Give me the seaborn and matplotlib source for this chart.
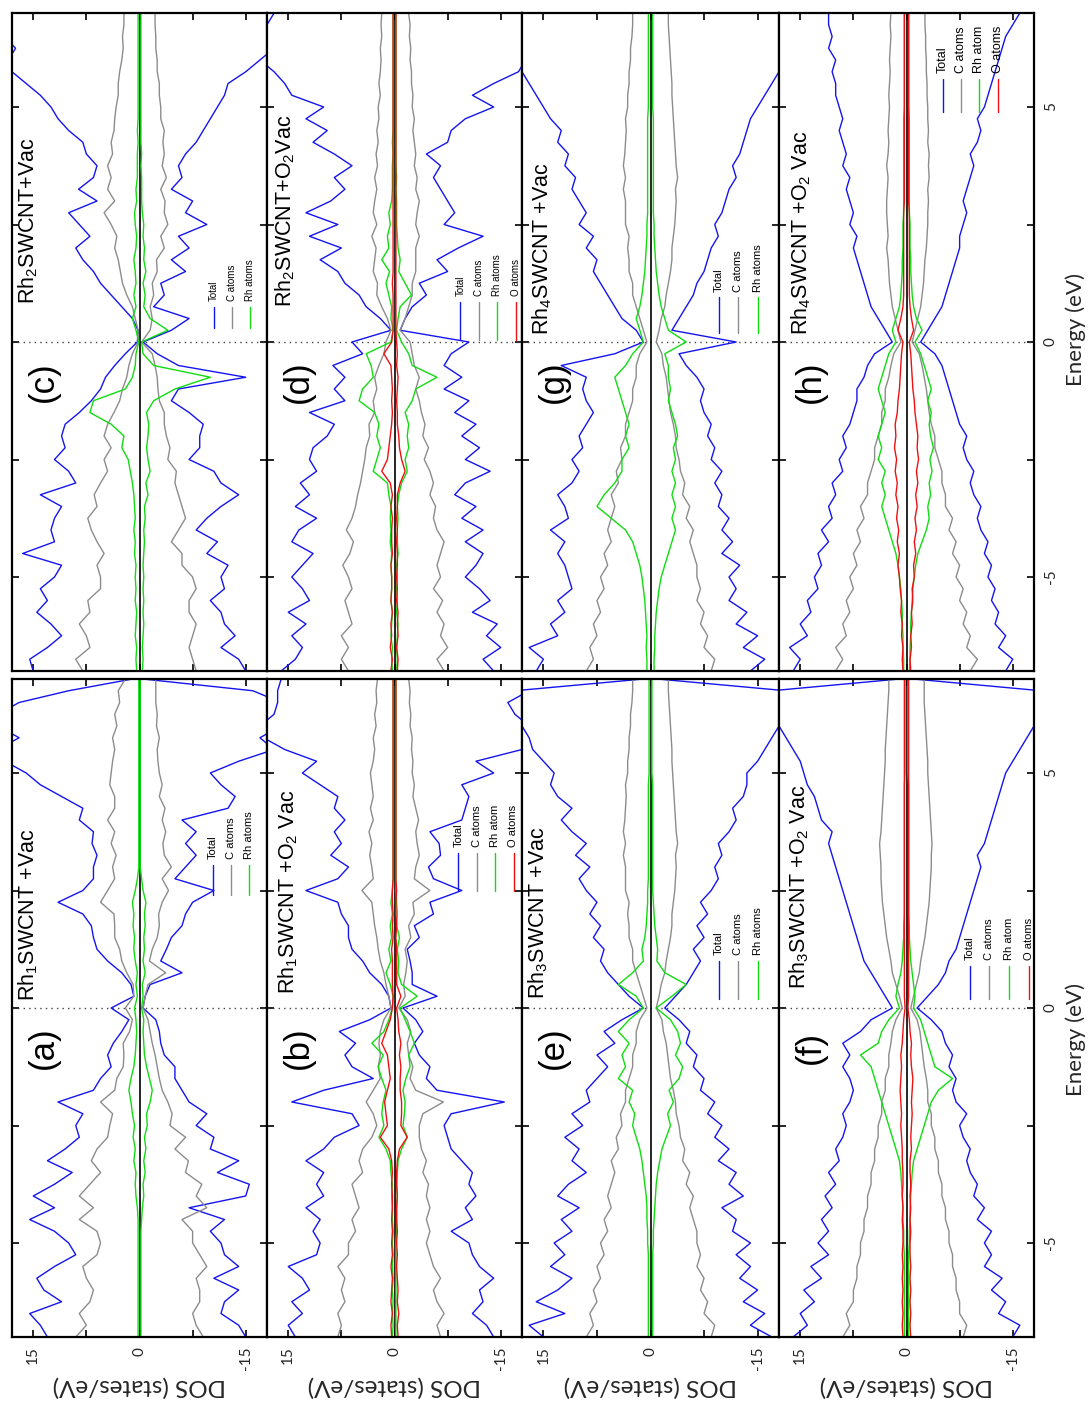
import numpy as np
import matplotlib
matplotlib.use("Agg")
import matplotlib.pyplot as plt
import seaborn as sns

# ---------------- data (DOS in states/eV, energy grid in eV) ----------------
ENERGY = np.arange(-7.0, 7.0001, 0.25)

a_tot_up = [13, 14, 15.5, 11, 13.5, 14.5, 12, 9, 10, 12, 15.5, 12, 15, 12, 9.5, 13,
            10.5, 8.5, 9, 8, 11.5, 6.5, 5.5, 4, 4.5, 3.7, 2.5, 1.5, 4, 0.8, 1.2, 2.5,
            4.5, 6, 6.5, 6.8, 8, 11.5, 8, 6.5, 6.5, 6, 6.7, 6.5, 8.5, 8, 11, 14,
            16, 19, 20, 17, 20, 20, 17, 10, 1]
a_tot_dn = [15, 14, 11.5, 12, 14, 10.5, 14, 12, 11.5, 10, 12, 7, 15, 15.5, 11, 14,
            10, 10.5, 8, 9.5, 7, 6, 5, 5, 3.5, 3, 2.8, 2.3, 0.5, 0.8, 1.5, 6,
            3, 3.8, 4.5, 6, 6.5, 7.5, 10.5, 5, 6.5, 8, 6.5, 8, 6, 12.5, 13.5, 11.5,
            10, 14, 19, 17, 20, 20, 20, 16, 0.5]
a_c_up = [9, 7.5, 8.5, 7, 6.5, 7.5, 8, 6, 5.5, 6, 8.5, 6.5, 8.5, 7, 5.5, 6.8,
          6, 4.5, 4.2, 3.8, 5.5, 3.5, 3.2, 2.3, 2.2, 2.3, 1.4, 1, 2, 0.8, 0.9, 1.8,
          2.5, 2.8, 3.5, 3.5, 3.6, 5.5, 4.5, 3.5, 3.8, 3.3, 4, 3.5, 4.5, 3.5, 3.5, 4.2,
          4, 3.8, 3.5, 3.8, 3.2, 3.5, 2.8, 3, 2]
a_c_dn = [9, 8, 7.5, 8.5, 8.5, 8, 9.5, 8.5, 7.5, 7.5, 6, 9.5, 8, 8.8, 6.5, 6.9,
          5, 6.5, 4.3, 4.6, 4, 3.2, 2.8, 2.5, 2.2, 1.8, 1.5, 1.2, 0.5, 0.8, 1.2, 3.7,
          1.4, 1.8, 2.5, 2.8, 2.7, 3.2, 4.1, 3.2, 4.5, 3.5, 3.3, 3.7, 3.2, 3.6, 2.8, 3.2,
          2.8, 2.6, 2.5, 2.8, 2.4, 2.5, 2.3, 2.3, 2.3]
a_rh_up = [0.2, 0.2, 0.2, 0.2, 0.2, 0.2, 0.2, 0.2, 0.2, 0.2, 0.2, 0.3, 0.5, 0.6, 0.5, 0.8,
           0.6, 0.9, 0.7, 1.0, 1.2, 1.5, 1.2, 0.8, 0.6, 0.5, 0.4, 0.5, 0.7, 0.3, 0.5, 0.3,
           0.6, 0.8, 0.7, 0.9, 0.8, 1.0, 0.6, 0.3, 0.1, 0.1, 0.1, 0.1, 0.1, 0.1, 0.1, 0.1,
           0.1, 0.1, 0.1, 0.1, 0.1, 0.1, 0.1, 0.1, 0.1]
a_rh_dn = [0.2, 0.2, 0.2, 0.2, 0.2, 0.2, 0.2, 0.2, 0.2, 0.2, 0.3, 0.4, 0.6, 0.5, 0.8, 0.6,
           0.9, 0.7, 1.1, 1.0, 1.5, 1.8, 1.4, 1.0, 0.7, 0.6, 0.5, 0.6, 0.3, 0.5, 0.4, 0.8,
           0.5, 0.7, 0.6, 0.8, 0.7, 0.9, 0.5, 0.3, 0.1, 0.1, 0.1, 0.1, 0.1, 0.1, 0.1, 0.1,
           0.1, 0.1, 0.1, 0.1, 0.1, 0.1, 0.1, 0.1, 0.1]

b_tot_up = [14, 15, 13, 14.5, 12, 13, 15, 11, 10.5, 11.5, 10.5, 12.5, 10, 11, 10, 12.5,
            10, 8.5, 5, 6, 14.5, 10, 3, 6, 7, 5.5, 7.8, 3.5, 0.5, 0.8, 1.8, 3.5,
            4.5, 6, 6.5, 6.5, 7.5, 8, 12.5, 8, 6.5, 9, 7.5, 8.5, 7, 8.5, 8, 10.5,
            13, 11, 15.5, 18.5, 19, 17, 16.5, 16.5, 16]
b_tot_dn = [14, 13, 11, 12.5, 12, 14, 12, 11, 10.5, 8, 11, 10, 11.5, 10.5, 11, 9.5,
            8, 7.5, 7, 8, 15.5, 6, 4.5, 5, 3.5, 2.8, 4, 3, 1.2, 6, 2.5, 2.5,
            2.2, 1.8, 3.5, 2.8, 5.5, 5, 9.5, 5.5, 4.8, 6.5, 6.3, 5, 9.5, 10, 10.5, 9.5,
            14, 11.5, 18, 19, 19, 17, 16, 19, 18]
b_c_up = [8, 7.5, 8, 7, 7.5, 7, 8, 6.5, 6.5, 5.5, 6, 5, 5.5, 6, 4.5, 5,
          4.5, 3.2, 2.5, 3, 4, 3, 2, 2.3, 2, 2.2, 2, 1.5, 0.5, 0.8, 1.2, 1.5,
          2, 2.3, 2.5, 2.8, 3, 3.2, 4.6, 3, 3.2, 3.5, 3.2, 3.6, 3, 3.4, 3, 3.2,
          3.4, 3, 2.8, 3, 2.6, 2.8, 2.5, 2.6, 2.4]
b_c_dn = [6.5, 6, 7, 6, 5.5, 6.5, 5.5, 5, 4.5, 5, 4.5, 5, 4.5, 4.8, 4, 4.5,
          3.8, 3.5, 3.5, 4, 6.9, 3, 2.2, 2.6, 2, 1.8, 2.3, 1.8, 0.6, 1.5, 1.3, 1.6,
          1.8, 1.5, 2.3, 2, 2.8, 2.6, 5, 2.8, 3, 3.5, 3.2, 3, 3.4, 3, 2.6, 2.8,
          2.5, 2.6, 2.4, 2.5, 2.2, 2.3, 2.1, 2.2, 2]
b_rh_up = [0.3, 0.2, 0.3, 0.2, 0.3, 0.2, 0.3, 0.2, 0.3, 0.2, 0.3, 0.3, 0.4, 0.3, 0.5, 0.6,
           1.2, 2.2, 1.5, 1.8, 1.6, 1.2, 1.8, 2.3, 1.6, 3.2, 1.5, 0.8, 0.3, 0.2, 0.6, 1.2,
           0.5, 0.8, 0.4, 0.6, 0.3, 0.5, 0.3, 0.2, 0.2, 0.2, 0.2, 0.2, 0.2, 0.2, 0.2, 0.2,
           0.2, 0.2, 0.2, 0.2, 0.2, 0.2, 0.2, 0.2, 0.2]
b_rh_dn = [0.2, 0.2, 0.2, 0.2, 0.2, 0.2, 0.2, 0.2, 0.2, 0.3, 0.3, 0.3, 0.4, 0.3, 0.4, 0.5,
           1.0, 1.8, 1.2, 1.4, 1.5, 1.2, 1.6, 2.2, 2.0, 2.8, 2.2, 1.5, 0.8, 3.2, 1.0, 0.5,
           0.6, 0.4, 0.7, 0.3, 0.4, 0.3, 0.2, 0.2, 0.2, 0.2, 0.2, 0.2, 0.2, 0.2, 0.2, 0.2,
           0.2, 0.2, 0.2, 0.2, 0.2, 0.2, 0.2, 0.2, 0.2]
b_o_up = [0.4, 0.5, 0.3, 0.5, 0.4, 0.3, 0.5, 0.3, 0.4, 0.3, 0.4, 0.3, 0.3, 0.4, 0.3, 0.4,
          0.8, 2.0, 1.0, 1.2, 1.4, 1.0, 0.6, 0.8, 1.0, 1.8, 1.2, 0.6, 0.3, 0.2, 0.3, 0.3,
          0.3, 0.4, 0.2, 0.3, 0.2, 0.3, 0.3, 0.2, 0.2, 0.2, 0.2, 0.2, 0.2, 0.2, 0.2, 0.2,
          0.2, 0.2, 0.2, 0.2, 0.2, 0.2, 0.2, 0.2, 0.2]
b_o_dn = [0.5, 0.4, 0.6, 0.4, 0.5, 0.4, 0.3, 0.4, 0.3, 0.4, 0.3, 0.3, 0.4, 0.3, 0.3, 0.4,
          0.7, 1.8, 0.9, 1.0, 1.0, 0.8, 0.8, 0.9, 0.7, 0.9, 0.6, 0.5, 0.3, 0.9, 0.3, 0.3,
          0.3, 0.3, 0.2, 0.3, 0.2, 0.2, 0.3, 0.2, 0.2, 0.2, 0.2, 0.2, 0.2, 0.2, 0.2, 0.2,
          0.2, 0.2, 0.2, 0.2, 0.2, 0.2, 0.2, 0.2, 0.2]

c_tot_up = [15, 15.5, 13, 11, 12.5, 14.5, 13, 14, 12, 11, 16.5, 12, 12.5, 12, 11, 14,
            9, 10, 12, 10.5, 11, 10.5, 8.5, 6.8, 5.5, 4.8, 3.5, 2, 0.3, 0.2, 1, 2.5,
            4, 5.5, 6.5, 8, 9, 7, 8.5, 10, 6, 8.6, 6.5, 6, 7.5, 8, 10, 11.5,
            12.5, 14, 16, 18, 18.5, 17.5, 19, 19, 19]
c_tot_dn = [15, 14, 11.5, 13.5, 12, 11.5, 10, 12, 11.5, 12.5, 9.5, 11, 8, 9.5, 11.5, 14,
            11.5, 10.5, 7, 8.5, 8.5, 9, 7, 4.5, 5.5, 15, 5.5, 2.5, 0.5, 4.5, 7, 2,
            3.5, 3, 6.5, 4.5, 7, 5.5, 9.5, 6.5, 7.5, 4.5, 6, 5.5, 6.5, 8, 9, 10,
            11, 12, 12.5, 15, 17, 19, 19, 19, 19]
c_c_up = [8, 9, 7, 7.5, 8.5, 7, 7.3, 5.5, 5.5, 6, 5, 6, 6.8, 7.3, 6, 6.4,
          5.5, 4.5, 5, 4, 5, 4.5, 3.6, 2.8, 2.4, 1.8, 1.5, 1, 0.2, 0.2, 0.6, 1,
          1.8, 2.4, 2.7, 3, 3.5, 3.2, 4, 5, 3.5, 4.5, 4, 4.5, 3.8, 4, 3.6, 3.5,
          3.3, 3, 3, 2.8, 2.5, 2.3, 2.4, 2.2, 2.2]
c_c_dn = [8, 7.5, 7, 7.5, 8, 7, 7, 8, 7.5, 6, 6, 4.5, 5.5, 6.5, 6, 5.5,
          5, 5.2, 4, 4.3, 3.8, 3.5, 3.5, 2.8, 2.6, 2.5, 2.2, 1.8, 0.3, 1.5, 1.8, 1.5,
          2, 1.8, 2.5, 2.4, 3.5, 3, 4, 3.5, 3.6, 3, 3.8, 3.2, 3.5, 3.3, 3.5, 3,
          3, 2.8, 2.8, 2.5, 2.5, 2.3, 2.3, 2.2, 2.2]
c_rh_up = [0.4, 0.5, 0.4, 0.6, 0.5, 0.4, 0.6, 0.5, 0.6, 0.5, 0.7, 0.6, 0.8, 0.6, 0.7, 0.8,
           1.0, 1.3, 1.6, 2.5, 2.2, 4.0, 7.0, 6.5, 2.0, 1.0, 0.6, 0.5, 0.1, 0.5, 1.0, 0.5,
           0.8, 0.5, 0.6, 0.8, 0.5, 0.4, 0.6, 0.7, 0.4, 0.5, 0.3, 0.3, 0.3, 0.2, 0.3, 0.2,
           0.2, 0.2, 0.2, 0.2, 0.2, 0.2, 0.2, 0.2, 0.2]
c_rh_dn = [0.4, 0.5, 0.4, 0.5, 0.6, 0.5, 0.6, 0.5, 0.6, 0.5, 0.6, 0.7, 0.6, 0.8, 0.7, 1.2,
           0.9, 1.5, 1.2, 1.0, 1.2, 1.3, 1.0, 2.0, 5.0, 10.0, 2.0, 0.5, 0.3, 4.0, 1.5, 0.6,
           0.8, 0.5, 0.9, 0.6, 0.7, 0.5, 0.6, 0.4, 0.3, 0.3, 0.3, 0.2, 0.3, 0.2, 0.2, 0.2,
           0.2, 0.2, 0.2, 0.2, 0.2, 0.2, 0.2, 0.2, 0.2]

d_tot_up = [16, 14, 13, 14.5, 12.5, 15, 12, 13, 14.5, 13, 11.5, 14.5, 13.5, 11, 14, 12,
            13.3, 11, 12, 11.5, 9.5, 8.5, 12, 7, 8.5, 7, 8.7, 4.5, 6, 0.5, 2, 4,
            5, 7, 8, 10.5, 7.5, 12, 8, 12.5, 9, 7, 8.5, 6, 8.5, 11.5, 9.5, 12.5,
            10, 14.5, 15.5, 17, 19, 19, 19, 18, 17]
d_tot_dn = [14, 12.5, 15, 13, 14.5, 11, 13.5, 12, 10, 11.5, 12.5, 10, 12.5, 9.5, 11.5, 8.5,
            10, 13.5, 10, 12, 9.5, 11.5, 8.5, 10.5, 7, 9.5, 7, 8, 10.5, 0.8, 1.5, 2.5,
            4.5, 3.5, 7.5, 6, 9, 12.5, 7, 8.5, 7.5, 6.5, 5.5, 6.5, 4.5, 7.5, 8, 10,
            14, 11, 14, 17.5, 18.5, 19, 19, 19, 19]
d_c_up = [6.5, 7.5, 6.5, 7.5, 6, 6.5, 7, 6, 6.5, 7.3, 6.3, 5.8, 6.8, 6, 5.5, 5.2,
          4.8, 4.5, 4.2, 4, 3.5, 3.6, 2.8, 3, 2.5, 2.8, 2.2, 1.5, 1.2, 0.5, 1, 1.8,
          2.5, 2.4, 3, 2.8, 2.6, 3.2, 2.5, 3, 2.8, 2.5, 2.8, 2.4, 2.6, 2.3, 2.5, 2.2,
          2.3, 2, 2.2, 2, 1.9, 2, 1.8, 1.9, 1.8]
d_c_dn = [7, 6, 7.5, 6.5, 7, 6, 6.8, 5.5, 6.5, 6, 6.5, 7, 6, 5.5, 5.8, 5,
          5.5, 5, 4.2, 4.8, 4, 4.3, 3.8, 3.5, 3, 3.5, 2.8, 2.5, 2.2, 0.8, 1.5, 2,
          2.5, 2.5, 3, 3, 3, 3.5, 3, 3.2, 3.5, 3, 3.2, 2.8, 3, 2.8, 2.6, 2.8,
          2.5, 2.6, 2.4, 2.4, 2.2, 2.3, 2.1, 2.2, 2]
d_rh_up = [0.3, 0.4, 0.3, 0.5, 0.4, 0.3, 0.5, 0.4, 0.4, 0.5, 0.4, 0.6, 0.5, 0.6, 0.5, 0.8,
           1.0, 3.0, 2.5, 2.0, 2.5, 2.2, 2.8, 5.0, 4.5, 3.0, 3.3, 4.0, 0.5, 0.2, 0.5, 0.4,
           0.8, 1.2, 0.7, 1.8, 0.8, 1.0, 0.6, 0.8, 0.4, 0.3, 0.3, 0.3, 0.2, 0.3, 0.2, 0.2,
           0.2, 0.2, 0.2, 0.2, 0.2, 0.2, 0.2, 0.2, 0.2]
d_rh_dn = [0.3, 0.4, 0.3, 0.4, 0.5, 0.3, 0.4, 0.3, 0.4, 0.3, 0.5, 0.4, 0.4, 0.5, 0.4, 0.6,
           1.0, 1.8, 1.5, 2.0, 1.8, 2.0, 1.5, 2.5, 3.0, 6.0, 2.5, 2.0, 1.0, 0.3, 0.5, 0.8,
           2.4, 1.5, 0.6, 0.8, 0.5, 0.4, 0.3, 0.3, 0.3, 0.2, 0.3, 0.2, 0.2, 0.2, 0.2, 0.2,
           0.2, 0.2, 0.2, 0.2, 0.2, 0.2, 0.2, 0.2, 0.2]
d_o_up = [0.5, 0.3, 0.6, 0.4, 0.5, 0.3, 0.5, 0.4, 0.4, 0.5, 0.3, 0.4, 0.4, 0.3, 0.5, 0.3,
          0.6, 1.8, 1.0, 0.8, 0.6, 0.4, 0.3, 0.4, 0.3, 0.4, 0.5, 1.5, 0.4, 0.2, 0.2, 0.2,
          0.2, 0.3, 0.2, 0.2, 0.2, 0.2, 0.2, 0.2, 0.2, 0.2, 0.2, 0.2, 0.2, 0.2, 0.2, 0.2,
          0.2, 0.2, 0.2, 0.2, 0.2, 0.2, 0.2, 0.2, 0.2]
d_o_dn = [0.4, 0.5, 0.3, 0.5, 0.4, 0.5, 0.3, 0.4, 0.3, 0.4, 0.4, 0.3, 0.4, 0.3, 0.4, 0.4,
          0.8, 1.5, 1.0, 0.7, 0.6, 0.4, 0.4, 0.3, 0.4, 0.5, 0.3, 0.4, 0.3, 0.2, 0.2, 0.2,
          0.2, 0.2, 0.2, 0.2, 0.2, 0.2, 0.2, 0.2, 0.2, 0.2, 0.2, 0.2, 0.2, 0.2, 0.2, 0.2,
          0.2, 0.2, 0.2, 0.2, 0.2, 0.2, 0.2, 0.2, 0.2]

e_tot_up = [15, 17, 12, 16, 13, 11, 14, 12, 13.5, 11, 12.5, 10, 13, 11.5, 9, 11,
            10, 12, 9.5, 11, 8.5, 9, 7.5, 6, 7.5, 5, 6.5, 4, 1, 3, 4.5, 6,
            7, 6.5, 8, 7, 8.5, 7.5, 9, 10, 8.5, 10.5, 9, 11, 12.5, 11, 13, 14,
            13.5, 15, 16.5, 17, 18, 18, 19, 19, 1]
e_tot_dn = [17, 14, 16, 13, 15, 12.5, 14, 12, 14, 11.5, 12, 10, 13, 11, 12, 9.5,
            11, 9, 10, 8, 9, 7, 7.5, 6, 6.5, 5, 5.5, 4, 2, 3.5, 5, 6,
            7, 6, 7.5, 6.5, 8, 7, 8.5, 9.5, 9, 10, 9.5, 11, 12, 11.5, 13, 13.5,
            13.5, 15, 16, 17, 18, 19, 19, 19, 1]
e_c_up = [9, 8, 8.5, 7.5, 8, 7, 7.5, 6.5, 7, 6, 6.5, 5.5, 6, 5.5, 5, 5.5,
          4.5, 4.8, 4, 4.2, 3.5, 3.5, 3, 2.5, 2.5, 2, 2, 1.5, 0.5, 1, 1.5, 2,
          2.5, 2.5, 3, 3, 3.2, 3, 3.5, 3.5, 3.5, 3.8, 3.5, 3.8, 3.6, 3.5, 3.4, 3.5,
          3.2, 3.2, 3, 3, 2.8, 2.8, 2.6, 2.5, 2.5]
e_c_dn = [8.5, 9, 7.5, 8, 7, 7.5, 6.5, 7, 6.5, 6.5, 6, 5.5, 6, 5, 5.5, 4.5,
          4.8, 4.2, 4, 3.6, 3.5, 3.2, 2.8, 2.6, 2.4, 2.2, 1.8, 1.6, 0.8, 1.2, 1.5, 2,
          2.2, 2.5, 2.8, 3, 3, 3.2, 3.4, 3.5, 3.6, 3.5, 3.8, 3.6, 3.5, 3.4, 3.3, 3.2,
          3.1, 3, 3, 2.9, 2.8, 2.7, 2.6, 2.5, 2.5]
e_rh_up = [0.3, 0.3, 0.3, 0.3, 0.3, 0.3, 0.3, 0.3, 0.4, 0.4, 0.5, 0.5, 0.6, 0.8, 1.0, 1.2,
           1.5, 2.0, 2.5, 2.2, 3.0, 2.5, 4.5, 3.5, 4.0, 3.0, 4.5, 3.0, 1.0, 2.0, 4.5, 2.5,
           1.0, 1.2, 0.8, 0.6, 0.5, 0.4, 0.4, 0.3, 0.3, 0.3, 0.3, 0.3, 0.3, 0.3, 0.3, 0.3,
           0.2, 0.2, 0.2, 0.2, 0.2, 0.2, 0.2, 0.2, 0.2]
e_rh_dn = [0.3, 0.3, 0.3, 0.3, 0.3, 0.3, 0.3, 0.3, 0.4, 0.4, 0.5, 0.6, 0.7, 0.8, 1.0, 1.3,
           1.6, 2.2, 2.8, 2.4, 3.2, 2.6, 4.0, 4.5, 3.5, 4.2, 3.8, 2.8, 0.8, 3.0, 5.0, 2.0,
           0.9, 1.0, 0.8, 0.6, 0.5, 0.4, 0.3, 0.3, 0.3, 0.3, 0.3, 0.3, 0.3, 0.3, 0.3, 0.3,
           0.2, 0.2, 0.2, 0.2, 0.2, 0.2, 0.2, 0.2, 0.2]

f_tot_up = [16, 14, 15, 13, 14.5, 12, 13.5, 11, 12.5, 11, 12, 10.5, 11.5, 10, 11, 9.5,
            10, 9, 8.5, 9, 8, 7.5, 8, 9, 8, 9, 6.5, 5, 2, 3, 4, 5,
            6, 6.5, 7, 7.5, 8, 8.5, 9, 9.5, 10, 10.5, 11, 10.5, 12, 12.5, 13, 14,
            14.5, 15, 16, 17, 18, 18.5, 19, 19, 1]
f_tot_dn = [15, 16, 13, 14, 12, 13.5, 11, 12, 11, 12, 10, 11, 9.5, 10, 9, 8.5,
            9, 8, 7.5, 8.5, 7, 6.5, 7, 6, 6.5, 5.5, 5, 3.5, 1.5, 3, 4.5, 5.5,
            6, 7, 7.5, 8, 8.5, 9, 9.5, 10, 10.5, 10, 11, 11.5, 12, 12.5, 13, 13.5,
            14, 15, 16, 17, 18, 19, 19, 19, 1]
f_c_up = [9, 8, 8.5, 7.5, 7.5, 7, 7, 6.5, 6.5, 6, 6, 5.5, 5.5, 5, 5, 4.5,
          4.5, 4, 4, 3.5, 3.5, 3, 3, 2.5, 2.5, 2.2, 2, 1.5, 0.6, 1, 1.5, 2,
          2.2, 2.5, 2.8, 3, 3.2, 3.4, 3.5, 3.6, 3.6, 3.7, 3.8, 3.6, 3.5, 3.4, 3.3, 3.2,
          3.1, 3, 3, 2.9, 2.8, 2.7, 2.6, 2.5, 2.5]
f_c_dn = [8, 8.5, 7.5, 7.5, 7, 7, 6.5, 6.5, 6, 6, 5.5, 5.5, 5, 5, 4.5, 4.5,
          4, 4, 3.5, 3.5, 3, 3, 2.8, 2.5, 2.3, 2.1, 1.9, 1.5, 0.6, 1, 1.4, 1.8,
          2, 2.3, 2.6, 2.8, 3, 3.2, 3.3, 3.4, 3.5, 3.5, 3.6, 3.5, 3.4, 3.3, 3.2, 3.1,
          3, 3, 2.9, 2.8, 2.7, 2.6, 2.5, 2.5, 2.5]
f_rh_up = [0.3, 0.3, 0.3, 0.3, 0.3, 0.3, 0.3, 0.3, 0.4, 0.4, 0.5, 0.5, 0.6, 0.7, 0.8, 1.0,
           1.5, 2, 2.5, 3, 3.5, 4, 4.5, 5, 6.5, 4, 3.5, 2.5, 1, 1.5, 1.2, 0.8,
           0.6, 0.5, 0.4, 0.4, 0.3, 0.3, 0.3, 0.3, 0.3, 0.3, 0.3, 0.3, 0.3, 0.3, 0.3, 0.3,
           0.2, 0.2, 0.2, 0.2, 0.2, 0.2, 0.2, 0.2, 0.2]
f_rh_dn = [0.3, 0.3, 0.3, 0.3, 0.3, 0.3, 0.3, 0.3, 0.4, 0.4, 0.5, 0.5, 0.6, 0.7, 0.8, 1.0,
           1.5, 2, 2.5, 3, 3.5, 4.5, 6.5, 4, 3.5, 3, 2.5, 2, 1, 1.2, 1, 0.8,
           0.6, 0.5, 0.4, 0.4, 0.3, 0.3, 0.3, 0.3, 0.3, 0.3, 0.3, 0.3, 0.3, 0.3, 0.3, 0.3,
           0.2, 0.2, 0.2, 0.2, 0.2, 0.2, 0.2, 0.2, 0.2]
f_o_up = [0.5, 0.6, 0.5, 0.6, 0.5, 0.6, 0.5, 0.6, 0.5, 0.5, 0.6, 0.5, 0.6, 0.5, 0.5, 0.6,
          0.6, 0.7, 0.8, 0.7, 0.8, 0.9, 0.8, 0.7, 0.8, 0.6, 0.5, 0.4, 0.2, 0.3, 0.3, 0.3,
          0.3, 0.3, 0.3, 0.3, 0.3, 0.3, 0.3, 0.3, 0.3, 0.3, 0.3, 0.3, 0.3, 0.3, 0.3, 0.3,
          0.3, 0.3, 0.3, 0.3, 0.3, 0.3, 0.3, 0.3, 0.3]
f_o_dn = [0.6, 0.5, 0.6, 0.5, 0.6, 0.5, 0.6, 0.5, 0.5, 0.6, 0.5, 0.6, 0.5, 0.6, 0.5, 0.5,
          0.7, 0.6, 0.7, 0.8, 0.7, 0.8, 0.9, 0.7, 0.6, 0.7, 0.5, 0.4, 0.2, 0.3, 0.3, 0.3,
          0.3, 0.3, 0.3, 0.3, 0.3, 0.3, 0.3, 0.3, 0.3, 0.3, 0.3, 0.3, 0.3, 0.3, 0.3, 0.3,
          0.3, 0.3, 0.3, 0.3, 0.3, 0.3, 0.3, 0.3, 0.3]

g_tot_up = [16, 15, 17, 13, 14, 12, 13, 11, 11.5, 12, 13, 12, 14, 11.5, 12, 13,
            11, 10, 11, 9.5, 10, 9, 8, 9, 9.5, 9, 12.5, 5, 1, 2, 4, 5,
            6, 7, 8, 7.5, 9, 8, 10, 9, 10, 11, 10.5, 12, 11.5, 13, 12.5, 14,
            15, 16, 17, 18, 18.5, 19, 19, 19, 19]
g_tot_dn = [14, 16, 13, 15, 12, 13.5, 11, 12, 11, 12.5, 10, 11.5, 10, 11, 9.5, 10,
            9, 10, 8.5, 9, 8, 8.5, 7.5, 7, 7.5, 6.5, 5, 4, 12, 3, 4, 5,
            6, 6.5, 7.5, 8, 8.5, 9.5, 9, 10, 10.5, 11, 12, 11.5, 12.5, 13, 13.5, 14,
            15, 16, 17, 18, 19, 19, 19, 19, 19]
g_c_up = [9, 8, 8.5, 7.5, 8, 7, 7.5, 6.5, 7, 6, 6.5, 5.5, 6, 5.5, 5, 5.5,
          4.5, 4.8, 4, 4.2, 3.5, 3.5, 3, 2.5, 2.5, 2, 2, 1.5, 0.5, 1, 1.5, 2,
          2.5, 2.5, 3, 3, 3.2, 3, 3.5, 3.5, 3.5, 3.8, 3.5, 3.8, 3.6, 3.5, 3.4, 3.5,
          3.2, 3.2, 3, 3, 2.8, 2.8, 2.6, 2.5, 2.5]
g_c_dn = [8.5, 9, 7.5, 8, 7, 7.5, 6.5, 7, 6.5, 6.5, 6, 5.5, 6, 5, 5.5, 4.5,
          4.8, 4.2, 4, 3.6, 3.5, 3.2, 2.8, 2.6, 2.4, 2.2, 1.8, 1.6, 0.8, 1.2, 1.5, 2,
          2.2, 2.5, 2.8, 3, 3, 3.2, 3.4, 3.5, 3.6, 3.5, 3.8, 3.6, 3.5, 3.4, 3.3, 3.2,
          3.1, 3, 3, 2.9, 2.8, 2.7, 2.6, 2.5, 2.5]
g_rh_up = [0.5, 0.5, 0.6, 0.5, 0.6, 0.7, 0.8, 1.0, 1.2, 1.5, 2.0, 2.5, 3.5, 5.5, 7.5, 6.5,
           5, 4, 4, 3, 3.5, 3, 3.5, 4, 4.5, 5, 3.5, 2.5, 1, 1.5, 2, 1.5,
           1.2, 1, 0.8, 0.7, 0.6, 0.5, 0.5, 0.4, 0.4, 0.4, 0.4, 0.4, 0.4, 0.4, 0.4, 0.4,
           0.3, 0.3, 0.3, 0.3, 0.3, 0.3, 0.3, 0.3, 0.3]
g_rh_dn = [0.5, 0.5, 0.6, 0.6, 0.7, 0.8, 1.0, 1.2, 1.5, 2, 2.5, 3, 3.5, 3, 3.5, 3,
           3.5, 3, 3.5, 3.2, 3.8, 3.5, 3, 2.5, 2.8, 2.5, 2.5, 2, 5, 2.5, 2, 1.5,
           1.2, 1, 0.8, 0.7, 0.6, 0.5, 0.5, 0.4, 0.4, 0.4, 0.4, 0.4, 0.4, 0.4, 0.4, 0.4,
           0.3, 0.3, 0.3, 0.3, 0.3, 0.3, 0.3, 0.3, 0.3]

h_tot_up = [16, 15, 16.5, 14, 15, 13.5, 14, 12.5, 13, 12, 12.5, 11, 12, 10.5, 11, 10,
            10.5, 9, 9.5, 8.5, 9, 8, 7.5, 7, 7, 6, 5.5, 4.5, 2, 3, 4, 5,
            5.5, 6, 6.5, 7, 7.5, 7, 8, 7.5, 8, 8.5, 8, 9, 8.5, 9, 9.5, 9,
            9.5, 10, 10, 10.5, 10, 11, 10.5, 11, 11]
h_tot_dn = [14, 15, 13, 14, 12.5, 13, 12, 12.5, 11.5, 12, 11, 11.5, 10.5, 10, 10.5, 9.5,
            9, 9.5, 8.5, 8, 8.5, 7.5, 7, 6.5, 6, 5.5, 5, 4, 2, 3, 4, 5,
            5.5, 6, 6.5, 7, 7.5, 7.5, 8, 8.5, 8, 8.5, 9, 9.5, 9, 10, 10.5, 10,
            11, 11.5, 12, 12.5, 13, 13.5, 14, 15, 16]
h_c_up = [10, 9, 10, 8.5, 9, 8, 8.5, 7.5, 8, 7, 7.5, 6.5, 7, 6, 6.5, 5.5,
          5.5, 5, 4.5, 4.5, 4, 3.5, 3.5, 3, 3, 2.5, 2.2, 1.8, 0.8, 1.2, 1.6, 2,
          2.2, 2.4, 2.5, 2.6, 2.8, 2.6, 2.7, 2.8, 2.8, 2.7, 2.6, 2.8, 2.6, 2.5, 2.6, 2.5,
          2.4, 2.5, 2.4, 2.3, 2.4, 2.3, 2.2, 2.3, 2.2]
h_c_dn = [9, 10, 8.5, 9, 8, 8.5, 7.5, 8, 7, 7.5, 6.5, 7, 6, 6.5, 5.5, 5.5,
          5, 5, 4.5, 4, 4, 3.5, 3.2, 3, 2.8, 2.5, 2.2, 1.8, 0.8, 1.2, 1.6, 2,
          2.2, 2.4, 2.5, 2.6, 2.8, 2.9, 3, 3, 3.1, 3, 3.2, 3.1, 3.2, 3, 3.1, 3,
          3, 2.9, 2.9, 2.8, 2.8, 2.7, 2.7, 2.6, 2.6]
h_rh_up = [0.4, 0.4, 0.5, 0.5, 0.6, 0.6, 0.7, 0.8, 1, 1.2, 1.5, 2, 2.5, 3, 3.5, 3,
           3.5, 3, 4, 3.5, 4, 3.5, 3, 3.5, 4, 3.5, 3, 2.5, 1.5, 2, 1.5, 1,
           0.8, 0.7, 0.6, 0.6, 0.5, 0.5, 0.5, 0.4, 0.4, 0.4, 0.4, 0.4, 0.4, 0.4, 0.4, 0.4,
           0.3, 0.3, 0.3, 0.3, 0.3, 0.3, 0.3, 0.3, 0.3]
h_rh_dn = [0.4, 0.5, 0.5, 0.6, 0.6, 0.7, 0.8, 0.9, 1.1, 1.3, 1.6, 2.2, 2.8, 3.2, 3, 3.4,
           3.2, 3.6, 3.3, 3.8, 3.4, 3.2, 3.5, 3, 3.5, 3, 2.5, 2, 1.2, 2.2, 1.4, 1,
           0.8, 0.7, 0.6, 0.6, 0.5, 0.5, 0.5, 0.4, 0.4, 0.4, 0.4, 0.4, 0.4, 0.4, 0.4, 0.4,
           0.3, 0.3, 0.3, 0.3, 0.3, 0.3, 0.3, 0.3, 0.3]
h_o_up = [0.5, 0.6, 0.5, 0.7, 0.6, 0.8, 0.7, 0.9, 1.0, 1.2, 1.0, 1.3, 1.1, 1.4, 1.2, 1.5,
          1.3, 1.6, 1.4, 1.7, 1.5, 1.6, 1.3, 1.2, 1.0, 0.9, 0.8, 0.7, 0.5, 1.2, 0.8, 0.5,
          0.4, 0.4, 0.4, 0.4, 0.4, 0.4, 0.4, 0.4, 0.3, 0.3, 0.3, 0.3, 0.3, 0.3, 0.3, 0.3,
          0.3, 0.3, 0.3, 0.3, 0.3, 0.3, 0.3, 0.3, 0.3]
h_o_dn = [0.6, 0.5, 0.7, 0.6, 0.8, 0.7, 0.9, 0.8, 1.1, 1.0, 1.3, 1.1, 1.4, 1.2, 1.5, 1.3,
          1.6, 1.4, 1.7, 1.5, 1.6, 1.4, 1.2, 1.1, 0.9, 0.8, 0.7, 0.6, 0.4, 1.0, 0.7, 0.5,
          0.4, 0.4, 0.4, 0.4, 0.4, 0.4, 0.4, 0.4, 0.3, 0.3, 0.3, 0.3, 0.3, 0.3, 0.3, 0.3,
          0.3, 0.3, 0.3, 0.3, 0.3, 0.3, 0.3, 0.3, 0.3]

TITLES = {
    "a": "Rh$_1$SWCNT +Vac", "b": "Rh$_1$SWCNT +O$_2$ Vac",
    "c": "Rh$_2$SWCNT+Vac", "d": "Rh$_2$SWCNT+O$_2$Vac",
    "e": "Rh$_3$SWCNT +Vac", "f": "Rh$_3$SWCNT +O$_2$ Vac",
    "g": "Rh$_4$SWCNT +Vac", "h": "Rh$_4$SWCNT +O$_2$ Vac",
}
LEGEND_LABELS = {
    "a": ["Total", "C atoms", "Rh atoms"],
    "b": ["Total", "C atoms", "Rh atom", "O atoms"],
    "c": ["Total", "C atoms", "Rh atoms"],
    "d": ["Total", "C atoms", "Rh atoms", "O atoms"],
    "e": ["Total", "C atoms", "Rh atoms"],
    "f": ["Total", "C atoms", "Rh atom", "O atoms"],
    "g": ["Total", "C atoms", "Rh atoms"],
    "h": ["Total", "C atoms", "Rh atom", "O atoms"],
}
DOS_TICKS = [15, 7.5, 0, -7.5, -15]
DOS_TICKLABELS = ["15", "", "0", "", "-15"]
E_TICKS = [-5, -2.5, 0, 2.5, 5]
E_TICKLABELS = ["-5", "", "0", "", "5"]

DATA = {
    "a": [(a_tot_up, a_tot_dn), (a_c_up, a_c_dn), (a_rh_up, a_rh_dn)],
    "b": [(b_tot_up, b_tot_dn), (b_c_up, b_c_dn), (b_rh_up, b_rh_dn), (b_o_up, b_o_dn)],
    "c": [(c_tot_up, c_tot_dn), (c_c_up, c_c_dn), (c_rh_up, c_rh_dn)],
    "d": [(d_tot_up, d_tot_dn), (d_c_up, d_c_dn), (d_rh_up, d_rh_dn), (d_o_up, d_o_dn)],
    "e": [(e_tot_up, e_tot_dn), (e_c_up, e_c_dn), (e_rh_up, e_rh_dn)],
    "f": [(f_tot_up, f_tot_dn), (f_c_up, f_c_dn), (f_rh_up, f_rh_dn), (f_o_up, f_o_dn)],
    "g": [(g_tot_up, g_tot_dn), (g_c_up, g_c_dn), (g_rh_up, g_rh_dn)],
    "h": [(h_tot_up, h_tot_dn), (h_c_up, h_c_dn), (h_rh_up, h_rh_dn), (h_o_up, h_o_dn)],
}

# ---------------- styling / layout ----------------
COLORS = ["#1414f0", "#8c8c8c", "#10dc10", "#f01010"]
W, H = 1092, 1403
COL_X = [12, 267, 522, 779, 1034]
ROW_Y = [(13, 671), (679, 1337)]
GRID = {"c": (0, 0), "d": (0, 1), "g": (0, 2), "h": (0, 3),
        "a": (1, 0), "b": (1, 1), "e": (1, 2), "f": (1, 3)}
# legend: (dos x of first line, spacing, line E low, line E high, fontsize)
LEG = {"a": (-10.4, -2.5, 2.4, 3.05, 8), "b": (-9.0, -2.6, 2.5, 3.3, 8),
       "c": (-10.5, -2.55, 0.3, 0.75, 7), "d": (-9.3, -2.6, 0.05, 0.85, 7),
       "e": (-9.6, -2.7, 0.2, 1.0, 8), "f": (-8.9, -2.8, 0.2, 0.9, 8),
       "g": (-9.6, -2.7, 0.2, 0.95, 8), "h": (-5.1, -2.6, 4.9, 5.6, 9)}
TITLE_POS = {"a": (15.7, 0.15), "b": (15.0, 0.3), "c": (15.7, 0.8), "d": (15.5, 0.75),
             "e": (15.7, 0.2), "f": (15.2, 0.4), "g": (15.2, 0.15), "h": (14.8, 0.15)}

sns.set_theme(style="ticks")
plt.rcParams["font.family"] = ["Liberation Sans", "DejaVu Sans"]
plt.rcParams["mathtext.default"] = "regular"

fig = plt.figure(figsize=(W / 100, H / 100), dpi=100)
fig.patch.set_facecolor("white")

for key, (r, c) in GRID.items():
    x0, x1 = COL_X[c], COL_X[c + 1]
    y0, y1 = ROW_Y[r]
    ax = fig.add_axes([x0 / W, 1 - y1 / H, (x1 - x0) / W, (y1 - y0) / H])
    ax.set_facecolor("white")
    for i, (up, dn) in enumerate(DATA[key]):
        sns.lineplot(x=np.asarray(up, float), y=ENERGY, orient="y", sort=False,
                     estimator=None, color=COLORS[i], lw=1.0, ax=ax, legend=False)
        sns.lineplot(x=-np.asarray(dn, float), y=ENERGY, orient="y", sort=False,
                     estimator=None, color=COLORS[i], lw=1.0, ax=ax, legend=False)
    ax.axvline(0, color="black", lw=1.2, zorder=1.8)
    ax.axhline(0, color="#444444", lw=1.0, ls=(0, (1, 3)), zorder=1.5)
    ax.set_xlim(18, -18)
    ax.set_ylim(-7, 7)
    ax.set_xlabel("")
    ax.set_ylabel("")
    ax.set_xticks(DOS_TICKS)
    ax.set_yticks(E_TICKS)
    ax.set_xticklabels(DOS_TICKLABELS if r == 1 else [""] * 5, rotation=90,
                       fontfamily="Lato", fontsize=11)
    ax.set_yticklabels(E_TICKLABELS, rotation=90, fontfamily="Lato", fontsize=11,
                       va="center")
    ax.tick_params(axis="both", direction="in", length=5, width=1.2, color="black",
                   top=True, bottom=True, left=True, right=True,
                   labelbottom=(r == 1), labeltop=False, labelleft=False,
                   labelright=(c == 3), pad=7)
    for sp in ax.spines.values():
        sp.set_linewidth(1.6)
        sp.set_color("black")

    # panel letter and title
    ax.text(13.6, -0.85, f"({key})", rotation=90, ha="center", va="center",
            fontsize=25, color="black")
    tx, ty = TITLE_POS[key]
    ax.text(tx, ty, TITLES[key], rotation=90, ha="center", va="bottom",
            fontsize=15.5, color="black")

    # vertical legend
    lx, dx, lo, hi, fs = LEG[key]
    for i, lab in enumerate(LEGEND_LABELS[key]):
        xx = lx + i * dx
        ax.plot([xx, xx], [lo, hi], color=COLORS[i], lw=1.0)
        ax.text(xx, hi + 0.12, lab, rotation=90, ha="center", va="bottom",
                fontsize=fs, color="black")

# axis titles
for c in range(4):
    xc = (COL_X[c] + COL_X[c + 1]) / 2
    fig.text(xc / W, 1 - 1386 / H, "DOS (states/eV)", rotation=180, ha="center",
             va="center", fontsize=17.5, fontfamily="Lato")
for r, yc in enumerate([330, 1040]):
    fig.text(1076 / W, 1 - yc / H, "Energy (eV)", rotation=90, ha="center",
             va="center", fontsize=16, fontfamily="Lato")

fig.savefig("out.png", dpi=100, facecolor="white")
